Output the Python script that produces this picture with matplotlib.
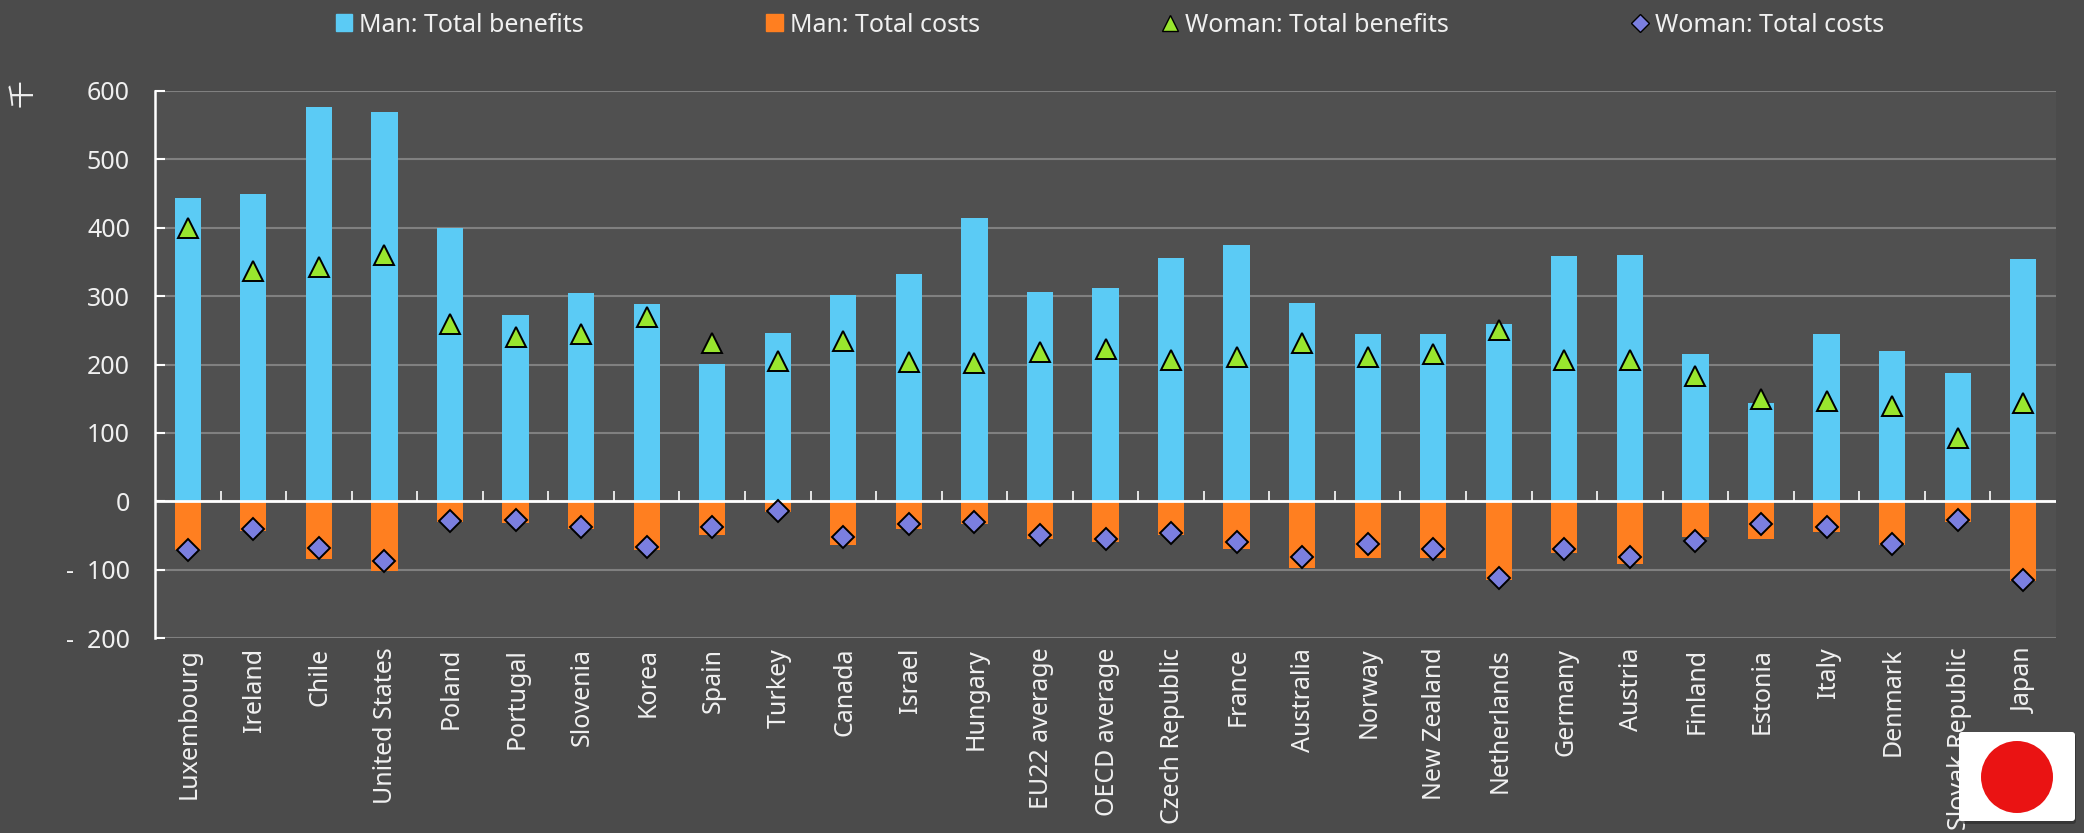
import numpy as np
import matplotlib
matplotlib.use("Agg")
import matplotlib.pyplot as plt
from matplotlib.patches import FancyBboxPatch, Circle, Patch
from matplotlib.lines import Line2D
from matplotlib.ticker import FuncFormatter
from matplotlib.transforms import ScaledTranslation

countries = ["Luxembourg", "Ireland", "Chile", "United States", "Poland", "Portugal", "Slovenia", "Korea",
             "Spain", "Turkey", "Canada", "Israel", "Hungary", "EU22 average", "OECD average", "Czech Republic",
             "France", "Australia", "Norway", "New Zealand", "Netherlands", "Germany", "Austria", "Finland",
             "Estonia", "Italy", "Denmark", "Slovak Republic", "Japan"]
man_benefits = [443, 449, 576, 570, 400, 272, 304, 289, 201, 246, 302, 333, 414, 306, 312, 356, 375, 290, 244,
                245, 259, 358, 360, 216, 144, 245, 220, 187, 355]
man_costs = [-72, -44, -85, -102, -30, -32, -40, -72, -50, -15, -64, -40, -33, -55, -60, -50, -70, -97, -83,
             -83, -115, -75, -92, -52, -55, -45, -64, -30, -116]
woman_benefits = [399, 337, 342, 360, 259, 240, 245, 270, 232, 205, 234, 204, 202, 218, 222, 206, 211, 232, 211,
                  215, 250, 206, 207, 183, 150, 146, 140, 93, 143]
woman_costs = [-71, -40, -69, -88, -29, -28, -37, -67, -37, -14, -52, -34, -31, -50, -55, -46, -59, -81, -63,
               -70, -112, -70, -82, -58, -34, -38, -63, -28, -115]
y_ticks = [-200, -100, 0, 100, 200, 300, 400, 500, 600]

W, H = 2084, 833
BG, PLOT = "#4b4b4b", "#505050"
BLUE, ORANGE, GREEN, PURPLE = "#5bcbf5", "#ff7f20", "#99e62e", "#7b7fe0"
TEXT = "#f0f0f0"
plt.rcParams["font.family"] = ["Noto Sans", "Noto Sans CJK JP", "DejaVu Sans"]

fig = plt.figure(figsize=(W / 100, H / 100), dpi=100, facecolor=BG)
ax = fig.add_axes([155 / W, 1 - 638 / H, (2056 - 155) / W, (638 - 91) / H], facecolor=PLOT)

x = np.arange(len(countries))
ax.set_axisbelow(True)
ax.yaxis.grid(True, color="#808080", lw=1.5)
ax.bar(x, man_benefits, width=0.4, color=BLUE, zorder=2)
ax.bar(x, man_costs, width=0.4, color=ORANGE, zorder=2)
ax.plot(x, woman_benefits, ls="none", marker="^", ms=14, mfc=GREEN, mec="black", mew=1.4, zorder=4)
ax.plot(x, woman_costs, ls="none", marker="D", ms=11.5, mfc=PURPLE, mec="black", mew=1.4, zorder=4)
ax.axhline(0, color="white", lw=2, zorder=3)
ax.vlines(x[:-1] + 0.5, 0, 15, color="white", lw=1.2, zorder=3)

ax.set_xlim(-0.5, len(countries) - 0.5)
ax.set_ylim(-200, 600)
ax.set_yticks(y_ticks)
ax.yaxis.set_major_formatter(FuncFormatter(lambda v, _: f"-  {abs(int(v))}" if v < 0 else f"{int(v)}"))
ax.set_xticks(x)
ax.set_xticklabels(countries, rotation=90, ha="center", va="top")
ax.tick_params(axis="x", length=0, pad=7, labelsize=18, colors=TEXT)
ax.tick_params(axis="y", direction="in", length=7, width=1.5, color="white", pad=18, labelsize=18, labelcolor=TEXT)
shift = ScaledTranslation(1.5 / 100, 0, fig.dpi_scale_trans)
for lab in ax.get_xticklabels():
    lab.set_transform(lab.get_transform() + shift)
for side in ("top", "right", "bottom"):
    ax.spines[side].set_visible(False)
ax.spines["left"].set_color("white")
ax.spines["left"].set_linewidth(1.8)

handles = [
    Patch(color=BLUE),
    Patch(color=ORANGE),
    Line2D([], [], ls="none", marker="^", ms=12, mfc=GREEN, mec="black", mew=1),
    Line2D([], [], ls="none", marker="D", ms=9, mfc=PURPLE, mec="black", mew=1),
]
labels = ["Man: Total benefits", "Man: Total costs", "Woman: Total benefits", "Woman: Total costs"]
fig.legend(handles, labels, ncol=4, frameon=False, loc="center", bbox_to_anchor=(1110 / W, 1 - 25 / H),
           fontsize=18, labelcolor=TEXT, columnspacing=7.3, handlelength=0.65, handleheight=0.65, handletextpad=0.28)

fig.text(23 / W, 1 - 93 / H, "千", rotation=90, ha="center", va="center", color=TEXT, fontsize=20,
         family=["Noto Sans CJK JP", "DejaVu Sans"])

# flag badge
fig.add_artist(FancyBboxPatch((1962, H - 824), 114, 90, boxstyle="round,pad=0,rounding_size=3", transform=None,
                              fc="#2e2e2e", ec="none", alpha=0.7, zorder=9))
fig.add_artist(FancyBboxPatch((1959, H - 821), 116, 89, boxstyle="round,pad=0,rounding_size=3", transform=None,
                              fc="white", ec="none", zorder=10))
fig.add_artist(Circle((2017, H - 777), 36, transform=None, fc="#ea1313", ec="none", zorder=11))

fig.savefig("out.png", dpi=100, facecolor=BG)
